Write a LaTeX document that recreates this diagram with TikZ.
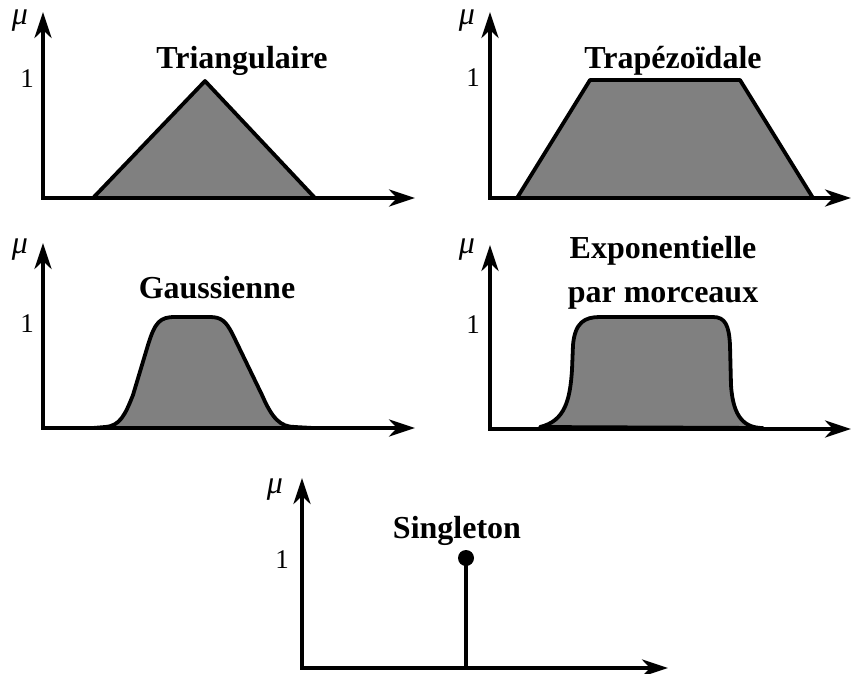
\documentclass[tikz,border=0pt]{standalone}
\usepackage{fontspec}
\setmainfont{Liberation Serif}
\usepackage{xcolor}
\usetikzlibrary{arrows.meta}

\definecolor{mfgray}{HTML}{808080}

\begin{document}
\begin{tikzpicture}[
  x=1pt, y=-1pt,
  axis/.style = {line width=3.8pt, line join=miter,
                 {Stealth[length=26pt,width=17pt,inset=8pt]}-{Stealth[length=26pt,width=17pt,inset=8pt]}},
  mf/.style   = {line width=3.8pt, line join=round, draw=black, fill=mfgray},
  ttl/.style  = {font=\fontsize{32}{44}\selectfont\bfseries, anchor=base,
                 align=center, inner sep=0pt},
  one/.style  = {font=\fontsize{27}{30}\selectfont, anchor=base, inner sep=0pt},
  mulbl/.style= {font=\fontsize{32}{30}\selectfont\itshape, anchor=base, inner sep=0pt},
  dot/.style  = {circle, fill=black, minimum size=16pt, inner sep=0pt},
]
\useasboundingbox (0,0) rectangle (852,673);

% ── Triangulaire ─────────────────────────────────────────────
\draw[mf] (93,198) -- (205,81) -- (315,198) -- cycle;
\draw[axis] (43,12) |- (415,198);
\node[mulbl] (mu1)  at (20,24)  {μ};
\node[one]   (one1) at (27,87)  {1};
\node[ttl]   (tri)  at (242,68) {Triangulaire};

% ── Trapézoïdale ─────────────────────────────────────────────
\draw[mf] (517,198) -- (590,80) -- (740,80) -- (813,198) -- cycle;
\draw[axis] (490,12) |- (851,198);
\node[mulbl] (mu2)  at (467,24) {μ};
\node[one]   (one2) at (473,86) {1};
\node[ttl]   (trap) at (673,68) {Trapézoïdale};

% ── Gaussienne ───────────────────────────────────────────────
\draw[mf] (93,428) -- (105,427) .. controls (120,426) and (125,415) .. (133,395)
  -- (148,345) .. controls (155,322) and (160,317) .. (175,317) -- (210,317)
  .. controls (222,317) and (226,322) .. (232,333) -- (262,395)
  .. controls (272,418) and (280,427) .. (295,427) -- (313,428) -- cycle;
\draw[axis] (43,243) |- (415,428);
\node[mulbl] (mu3)  at (20,253)  {μ};
\node[one]   (one3) at (27,332)  {1};
\node[ttl]   (gau)  at (217,298) {Gaussienne};

% ── Exponentielle par morceaux ───────────────────────────────
\draw[mf] (540,427) .. controls (565,421) and (570,400) .. (572,370)
  -- (573,345) .. controls (575,322) and (585,317) .. (600,317) -- (713,317)
  .. controls (725,317) and (729,325) .. (730,345) -- (731,385)
  .. controls (733,418) and (745,428) .. (763,428) -- cycle;
\draw[axis] (490,245) |- (851,429);
\node[mulbl] (mu4)  at (467,253) {μ};
\node[one]   (one4) at (473,333) {1};
\node[ttl]   (expo) at (663,302) {Exponentielle\\par morceaux};

% ── Singleton ────────────────────────────────────────────────
\draw[axis] (302,478) |- (668,668);
\node[dot]   (s)    at (466,558) {};
\draw[line width=3.8pt] (s.center) -- (466,668);
\node[mulbl] (mu5)  at (275,493) {μ};
\node[one]   (one5) at (282,568) {1};
\node[ttl]   (sgl)  at (457,538) {Singleton};

\end{tikzpicture}
\end{document}
